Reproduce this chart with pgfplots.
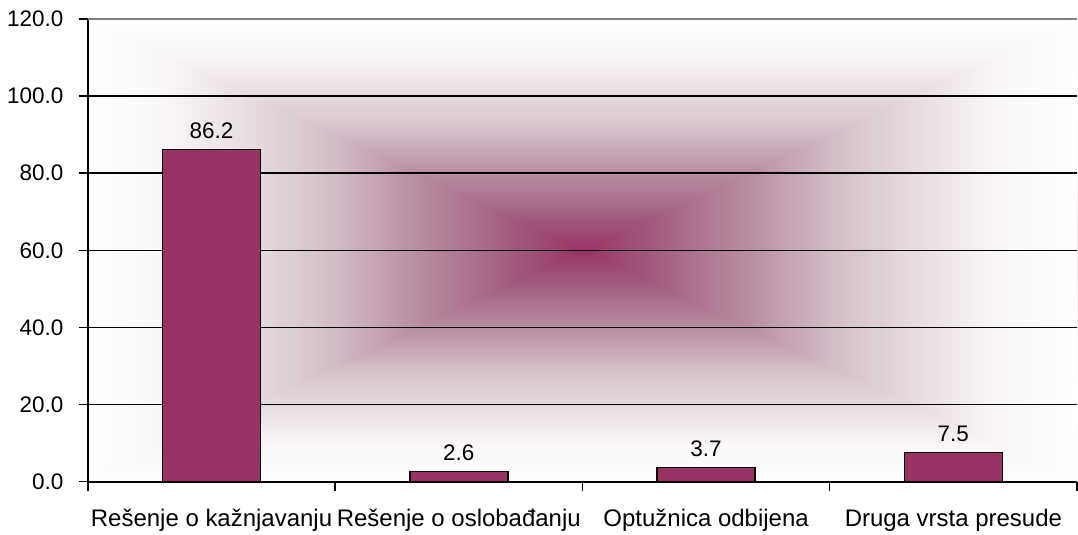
\documentclass[border=0pt]{standalone}
\usepackage{pgfplots}
\pgfplotsset{compat=1.18}
\usepackage{fontspec}
\setmainfont{Liberation Sans}

\definecolor{barplum}{HTML}{993366}
% colours of the box gradient, from the centre out to the edge
\definecolor{sA}{RGB}{153,51,102}
\definecolor{sB}{RGB}{160,85,122}
\definecolor{sC}{RGB}{172,115,142}
\definecolor{sD}{RGB}{190,150,168}
\definecolor{sE}{RGB}{210,188,198}
\definecolor{sF}{RGB}{228,216,222}
\definecolor{sG}{RGB}{250,247,249}
\pgfdeclareverticalshading{boxfade}{100bp}{color(0bp)=(sA); color(25bp)=(sA);
  color(31bp)=(sB); color(36.5bp)=(sC); color(43.5bp)=(sD); color(50bp)=(sE);
  color(57.5bp)=(sF); color(67.5bp)=(sG); color(75bp)=(white); color(100bp)=(white)}

\newcommand{\lab}{\fontsize{24}{28}\selectfont}
\newcommand{\num}{\fontsize{22.5}{27}\selectfont}

\begin{document}
\begin{tikzpicture}
\begin{axis}[set layers, scale only axis, width=990pt, height=463pt,
    xmin=-0.5, xmax=3.5, ymin=0, ymax=120,
    axis x line*=bottom, axis y line*=left,
    axis line style={black, line width=2pt},
    xtick={-0.5,0.5,1.5,2.5,3.5}, x tick label as interval,
    xticklabels={Rešenje o kažnjavanju, Rešenje o oslobađanju, Optužnica odbijena, Druga vrsta presude},
    ytick={0,20,...,120},
    tick align=outside, major tick length=9pt,
    tick style={black, line width=1.5pt},
    ymajorgrids, major grid style={black, line width=1.5pt},
    yticklabel={\pgfmathprintnumber[fixed, fixed zerofill, precision=1]{\tick}},
    /pgf/number format/assume math mode=true,
    xticklabel style={font=\lab, anchor=base, yshift=-36pt},
    yticklabel style={font=\num, xshift=-12pt},
    ybar, bar width=98pt,
    nodes near coords, point meta=explicit symbolic,
    nodes near coords style={font=\num, anchor=base, yshift=11pt, black},
  ]
\begin{pgfonlayer}{axis background}
% top and bottom halves as full rectangles, side triangles over them
\shade[shading=boxfade] (rel axis cs:0,0.5) rectangle (rel axis cs:1,1);
\shade[shading=boxfade, shading angle=180] (rel axis cs:0,0) rectangle (rel axis cs:1,0.5);
\shade[shading=boxfade, shading angle=90] (rel axis cs:0,0) -- (rel axis cs:0,1) -- (rel axis cs:0.5,0.5) -- cycle;
\shade[shading=boxfade, shading angle=-90] (rel axis cs:1,0) -- (rel axis cs:1,1) -- (rel axis cs:0.5,0.5) -- cycle;
\end{pgfonlayer}
\addplot[fill=barplum, draw=black, line width=1.5pt] coordinates
  {(0,86.2) [86.2] (1,2.6) [2.6] (2,3.7) [3.7] (3,7.5) [7.5]};
\draw[gray, line width=2pt] (rel axis cs:0,1) -- (rel axis cs:1,1);
\end{axis}
\path (-88pt,-53pt) rectangle (990pt,482pt);
\end{tikzpicture}
\end{document}
